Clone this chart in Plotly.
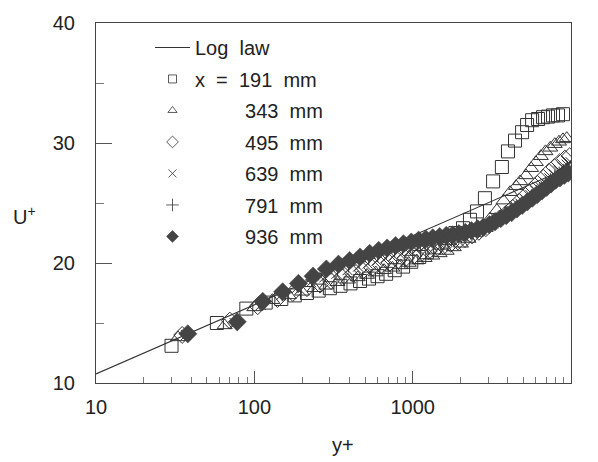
import plotly.graph_objects as go

# ---------------- data ----------------
loglaw_y = [10, 10000]
loglaw_u = [10.76, 28.03]

yp_191 = [30, 58, 89, 118, 148, 180, 215, 255, 300, 350, 405, 465, 530, 600, 680, 770, 870, 980,
          1100, 1230, 1370, 1520, 1680, 1860, 2080, 2300, 2550, 2860, 3220, 3660, 4000, 4430, 4910,
          5280, 5680, 6190, 6660, 7160, 7700, 8280, 8900]
u_191 = [13.1, 15.0, 16.2, 16.7, 17.0, 17.3, 17.5, 17.7, 17.9, 18.1, 18.3, 18.5, 18.7, 18.9, 19.1, 19.4,
         19.7, 20.1, 20.5, 20.9, 21.3, 21.7, 22.1, 22.5, 22.9, 23.6, 24.3, 25.4, 26.8, 28.0, 29.3, 30.2,
         30.9, 31.5, 31.9, 32.0, 32.15, 32.2, 32.3, 32.3, 32.4]

yp_343 = [33, 65, 100, 130, 165, 200, 240, 285, 335, 390, 450, 515, 585, 660, 745, 840, 945, 1060,
          1190, 1330, 1480, 1640, 1820, 2020, 2250, 2500, 2780, 3080, 3400, 3750, 4120, 4500, 4780,
          5200, 5600, 6000, 6450, 6900, 7400, 7900, 8400, 8900, 9400]
u_343 = [13.8, 14.8, 16.3, 16.9, 17.3, 17.6, 17.9, 18.1, 18.4, 18.6, 18.8, 19.0, 19.2, 19.4, 19.6, 19.8,
         20.0, 20.2, 20.4, 20.6, 20.8, 21.0, 21.3, 21.6, 22.0, 22.5, 23.1, 23.7, 24.4, 25.2, 25.9, 26.4,
         26.8, 27.3, 27.9, 28.4, 28.9, 29.3, 29.6, 29.9, 30.1, 30.3, 30.4]

yp_495 = [35, 70, 105, 140, 175, 215, 260, 305, 360, 420, 485, 555, 630, 715, 805, 905, 1015, 1135,
          1265, 1410, 1570, 1740, 1930, 2140, 2370, 2620, 2900, 3200, 3530, 3890, 4280, 4700, 5150,
          5630, 6140, 6680, 7250, 7850, 8480, 9150, 9800]
u_495 = [14.0, 15.2, 16.4, 17.0, 17.5, 17.9, 18.2, 18.5, 18.8, 19.1, 19.35, 19.6, 19.8, 20.0, 20.2,
         20.4, 20.6, 20.8, 21.0, 21.2, 21.4, 21.6, 21.8, 22.0, 22.3, 22.6, 22.9, 23.3, 23.7, 24.1, 24.6,
         25.1, 25.6, 26.1, 26.6, 27.1, 27.6, 28.0, 28.4, 28.7, 28.9]

yp_639 = [37, 75, 110, 147, 185, 228, 277, 330, 388, 452, 520, 593, 671, 757, 850, 952, 1060, 1178,
          1305, 1440, 1585, 1740, 1910, 2090, 2285, 2495, 2720, 2960, 3220, 3500, 3800, 4110, 4440,
          4790, 5160, 5550, 5960, 6390, 6840, 7310, 7800, 8310, 8840, 9390, 9950]
u_639 = [14.0, 15.0, 16.5, 17.3, 17.9, 18.4, 18.8, 19.1, 19.4, 19.7, 19.95, 20.2, 20.4, 20.6, 20.8,
         21.0, 21.15, 21.3, 21.45, 21.6, 21.75, 21.9, 22.05, 22.2, 22.35, 22.55, 22.75, 23.0, 23.3,
         23.6, 23.9, 24.25, 24.6, 24.95, 25.3, 25.65, 26.0, 26.35, 26.7, 27.05, 27.4, 27.7, 28.0,
         28.2, 28.4]

yp_791 = [38, 77, 112, 150, 188, 232, 281, 335, 394, 459, 528, 602, 681, 769, 863, 966, 1076, 1195,
          1323, 1460, 1608, 1765, 1935, 2120, 2318, 2530, 2760, 3000, 3270, 3550, 3850, 4170, 4500,
          4860, 5230, 5630, 6040, 6480, 6930, 7410, 7900, 8420, 8950, 9500]
u_791 = [14.1, 15.1, 16.6, 17.4, 18.1, 18.6, 19.1, 19.5, 19.8, 20.1, 20.4, 20.65, 20.85, 21.05, 21.25,
         21.4, 21.55, 21.7, 21.85, 21.95, 22.05, 22.15, 22.25, 22.4, 22.55, 22.7, 22.9, 23.1, 23.35,
         23.6, 23.9, 24.2, 24.5, 24.85, 25.2, 25.55, 25.9, 26.25, 26.6, 26.9, 27.2, 27.45, 27.65, 27.8]

yp_936 = [38, 78, 113, 151, 190, 235, 285, 340, 400, 465, 535, 610, 690, 780, 875, 980, 1090, 1210,
          1340, 1480, 1630, 1790, 1960, 2150, 2350, 2570, 2800, 3050, 3320, 3600, 3900, 4220, 4560,
          4920, 5300, 5700, 6120, 6560, 7020, 7500, 8000, 8520, 9060, 9620]
u_936 = [14.1, 15.1, 16.8, 17.6, 18.3, 18.9, 19.5, 19.9, 20.2, 20.5, 20.8, 21.05, 21.25, 21.45, 21.6,
         21.75, 21.9, 22.0, 22.1, 22.2, 22.3, 22.35, 22.45, 22.55, 22.7, 22.85, 23.0, 23.2, 23.45,
         23.7, 23.95, 24.2, 24.5, 24.8, 25.1, 25.4, 25.7, 26.0, 26.3, 26.6, 26.9, 27.1, 27.3, 27.5]

NB = "\u00a0"
names = ["x" + NB * 2 + "=" + NB * 2 + "191" + NB * 2 + "mm",
         NB * 9 + "343" + NB * 2 + "mm",
         NB * 9 + "495" + NB * 2 + "mm",
         NB * 9 + "639" + NB * 2 + "mm",
         NB * 9 + "791" + NB * 2 + "mm",
         NB * 9 + "936" + NB * 2 + "mm"]

INK = "#333333"
FONT = "Liberation Sans, Arial, sans-serif"

series = [
    (yp_191, u_191, "square-open", 13, 1.0, INK),
    (yp_343, u_343, "triangle-up-open", 13, 1.0, INK),
    (yp_495, u_495, "diamond-open", 13, 1.0, INK),
    (yp_639, u_639, "x-thin-open", 10, 1.0, INK),
    (yp_791, u_791, "cross-thin-open", 10, 1.0, INK),
    (yp_936, u_936, "diamond", 14, 0.6, "#444444"),
]
legend_sizes = [8, 8, 9, 8, 9, 9]

fig = go.Figure()

fig.add_trace(go.Scatter(x=loglaw_y, y=loglaw_u, mode="lines",
                         line=dict(color=INK, width=1.1), name="Log" + NB * 2 + "law",
                         legendgroup="g0"))

for i, (xs, ys, sym, sz, lw, col) in enumerate(series):
    fig.add_trace(go.Scatter(
        x=xs, y=ys, mode="markers", showlegend=False,
        marker=dict(symbol=sym, size=sz, color=col, line=dict(color=col, width=lw)),
    ))
    # legend-only entry with the small legend symbol
    fig.add_trace(go.Scatter(
        x=[None], y=[None], mode="markers", name=names[i], legendgroup="g%d" % (i + 1),
        marker=dict(symbol=sym, size=legend_sizes[i], color=col, line=dict(color=col, width=0.8)),
    ))

axis_common = dict(showline=True, linecolor="#444444", linewidth=1.2, mirror=True,
                   showgrid=False, zeroline=False, ticks="inside", tickcolor="#555555",
                   tickfont=dict(family=FONT, size=20, color="#222222"))

fig.update_xaxes(type="log", range=[1, 4], ticklen=12, tickwidth=1,
                 tickvals=[10, 100, 1000, 10000], ticktext=["10", "100", "1000", "10000"],
                 minor=dict(ticks="inside", ticklen=6, tickcolor="#777777", dtick="D1", showgrid=False),
                 ticklabelstandoff=6, **axis_common)
fig.update_yaxes(range=[10, 40], dtick=10, ticklen=16, tickwidth=1,
                 minor=dict(ticks="inside", ticklen=8, tickcolor="#777777", dtick=5, showgrid=False),
                 ticklabelstandoff=16, **axis_common)

fig.add_annotation(text="y+", xref="paper", yref="paper", x=(343 - 96) / 475, y=-(446 - 383) / 364,
                   xanchor="center", yanchor="middle",
                   showarrow=False, font=dict(family=FONT, size=20, color="#222222"))
fig.add_annotation(text="U<sup>+</sup>", xref="paper", yref="paper", x=(11 - 96) / 475,
                   y=1 - (214 - 19) / 364, xanchor="left", yanchor="middle", showarrow=False,
                   font=dict(family=FONT, size=20, color="#222222"))

fig.update_layout(
    width=598, height=462,
    margin=dict(l=96, r=27, t=19, b=79),
    paper_bgcolor="white", plot_bgcolor="white",
    showlegend=True,
    legend=dict(x=(150 - 96) / 475, y=1 - (24 - 19) / 364, xanchor="left", yanchor="top",
                bgcolor="rgba(0,0,0,0)", font=dict(family=FONT, size=20, color="#222222"),
                tracegroupgap=2.5, itemwidth=35),
)

fig.write_html("out.html", config={"displayModeBar": False},
               post_script="document.body.style.margin='0';document.body.style.padding='0';")
